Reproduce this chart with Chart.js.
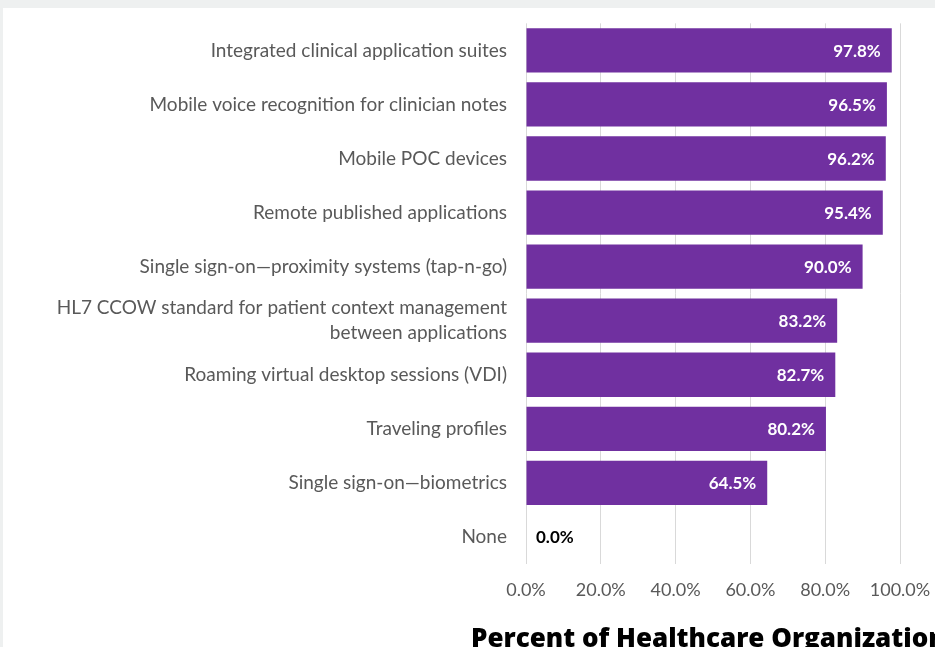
<!DOCTYPE html>
<html>
<head>
<meta charset="utf-8">
<script src="https://cdn.jsdelivr.net/npm/chart.js@4.4.1/dist/chart.umd.min.js"></script>
<style>
  html, body { margin: 0; padding: 0; }
  body { width: 935px; height: 647px; background: #eef0f0; position: relative; overflow: hidden; }
  #sheet { position: absolute; left: 3px; top: 8px; right: 0; bottom: 0; background: #ffffff; }
  #wrap { position: absolute; left: 0; top: 0; width: 935px; height: 647px; }
</style>
</head>
<body>
<div id="sheet"></div>
<div id="wrap"><canvas id="chart" width="935" height="647"></canvas></div>
<script>
// Technologies in use, share of healthcare organizations (%)
const categories = [
  'Integrated clinical application suites',
  'Mobile voice recognition for clinician notes',
  'Mobile POC devices',
  'Remote published applications',
  'Single sign-on\u2014proximity systems (tap-n-go)',
  ['HL7 CCOW standard for patient context management', 'between applications'],
  'Roaming virtual desktop sessions (VDI)',
  'Traveling profiles',
  'Single sign-on\u2014biometrics',
  'None'
];
const percentValues = [97.8, 96.5, 96.2, 95.4, 90.0, 83.2, 82.7, 80.2, 64.5, 0.0];
const axisTicks = [0, 20, 40, 60, 80, 100];
const axisTitle = 'Percent of Healthcare Organizations';

const barColor = '#7030A0';
const labelFont = 'Lato, "Open Sans", sans-serif';

// Value labels at the end of each bar
const valueLabels = {
  id: 'valueLabels',
  afterDatasetsDraw(chart) {
    const ctx = chart.ctx;
    const meta = chart.getDatasetMeta(0);
    ctx.save();
    ctx.font = 'bold 17px ' + labelFont;
    ctx.textBaseline = 'middle';
    meta.data.forEach((bar, i) => {
      const v = percentValues[i];
      const text = v.toFixed(1) + '%';
      if (v > 5) {
        ctx.fillStyle = '#ffffff';
        ctx.textAlign = 'right';
        ctx.fillText(text, bar.x - 11, bar.y + 1);
      } else {
        ctx.fillStyle = '#000000';
        ctx.textAlign = 'left';
        ctx.fillText(text, bar.x + 10, bar.y + 1);
      }
    });
    ctx.restore();
  }
};

// Axis title, drawn at full width (it runs past the right edge of the page)
const axisTitlePlugin = {
  id: 'axisTitlePlugin',
  afterDraw(chart) {
    const ctx = chart.ctx;
    ctx.save();
    ctx.font = '800 26px "Open Sans", sans-serif';
    ctx.fillStyle = '#000000';
    ctx.textAlign = 'left';
    ctx.textBaseline = 'alphabetic';
    ctx.fillText(axisTitle, 471, 647);
    ctx.restore();
  }
};

new Chart(document.getElementById('chart'), {
  type: 'bar',
  data: {
    labels: categories,
    datasets: [{
      data: percentValues,
      backgroundColor: barColor,
      borderWidth: 0,
      barPercentage: 0.82,
      categoryPercentage: 1.0
    }]
  },
  options: {
    indexAxis: 'y',
    responsive: false,
    animation: false,
    layout: { padding: { top: 18, right: 35, left: 0, bottom: 0 } },
    plugins: {
      legend: { display: false },
      tooltip: { enabled: false }
    },
    scales: {
      x: {
        min: 0,
        max: 100,
        afterBuildTicks(scale) { scale.ticks = axisTicks.map(v => ({ value: v })); },
        afterFit(scale) {
          scale.height = 83;
          scale.paddingLeft = 0;
          scale.paddingRight = 0;
        },
        grid: { color: '#d9d9d9', lineWidth: 1, drawTicks: false },
        border: { display: false },
        ticks: {
          color: '#595959',
          padding: 15,
          font: { family: labelFont, size: 18 },
          callback: v => v.toFixed(1) + '%'
        }
      },
      y: {
        afterFit(scale) { scale.width = 526; },
        grid: { display: false },
        border: { display: false },
        ticks: {
          color: '#595959',
          padding: 11,
          font: { family: labelFont, size: 19, lineHeight: 1.3 }
        }
      }
    }
  },
  plugins: [valueLabels, axisTitlePlugin]
});
</script>
</body>
</html>
